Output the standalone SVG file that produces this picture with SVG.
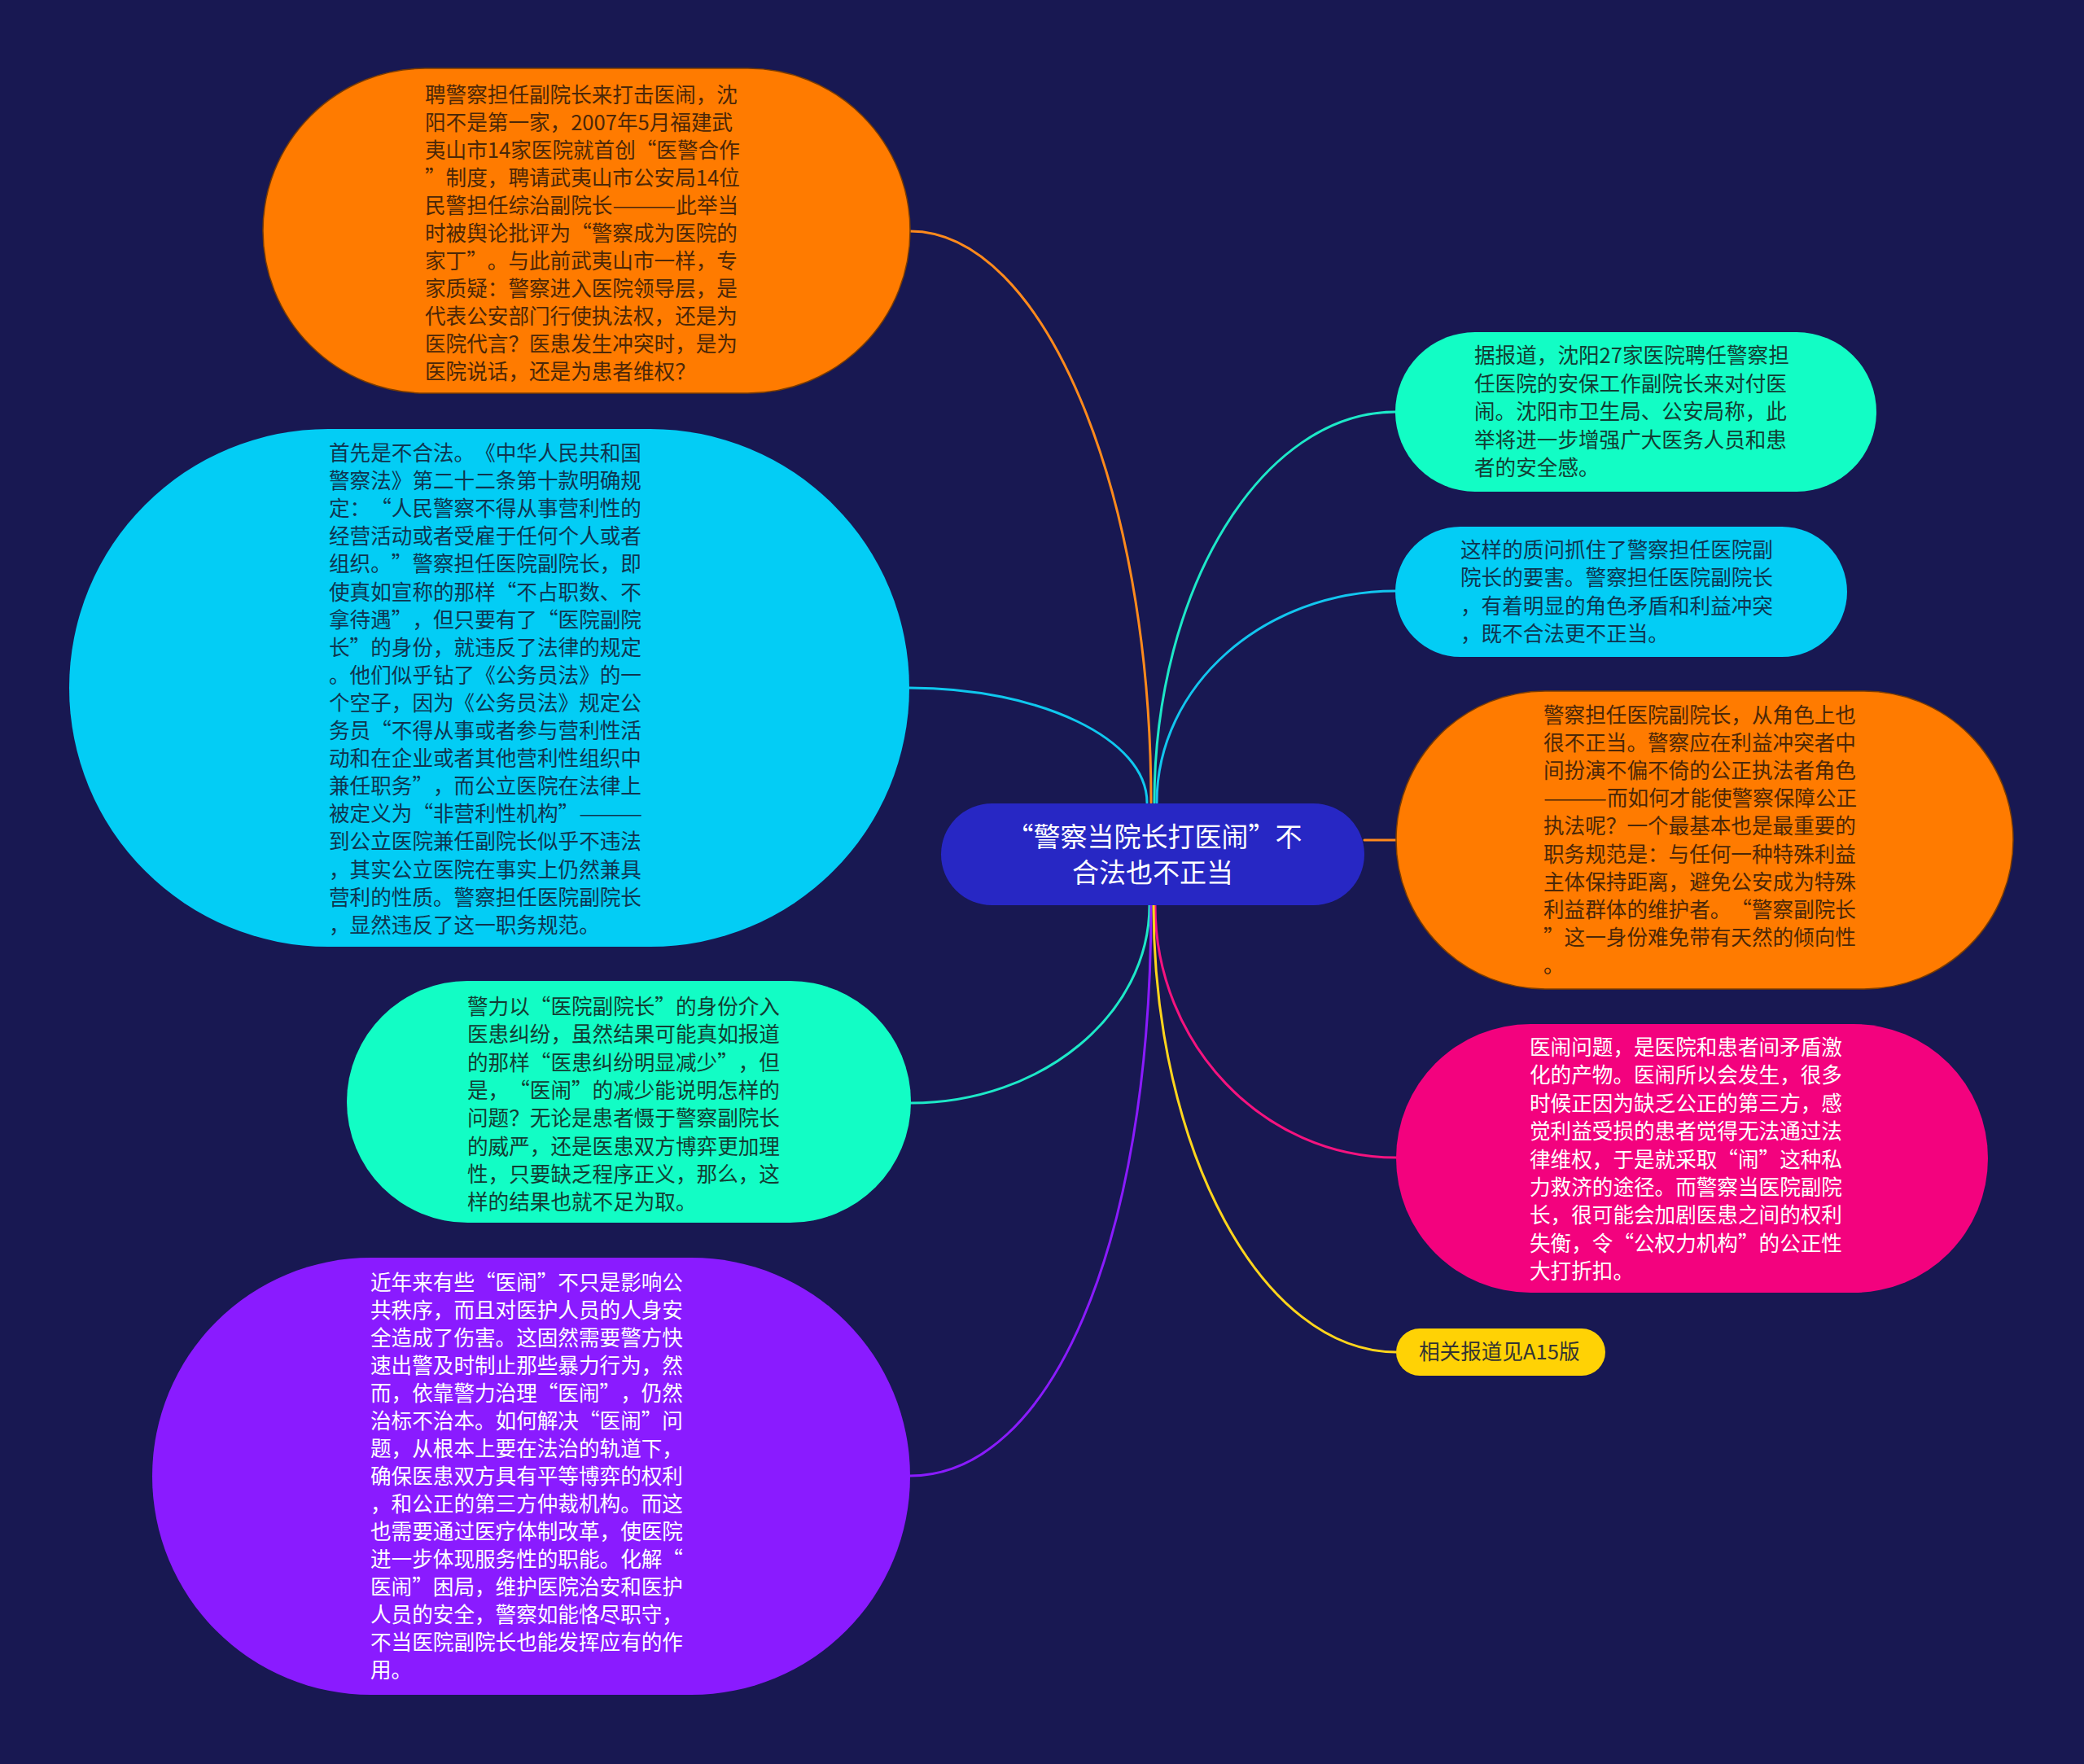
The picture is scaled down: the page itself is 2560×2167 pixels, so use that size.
<svg xmlns="http://www.w3.org/2000/svg" width="2560" height="2167" viewBox="0 0 2560 2167">
<style>
text{font-family:"Noto Sans CJK SC","Noto Sans",sans-serif;font-size:25.6px;text-spacing-trim:space-all}
.c{fill:none;stroke-width:3;stroke-linecap:round}
.tOr{fill:#4b2708}
.tCy{fill:#0f3550}
.tTe{fill:#123d33}
.tWh{fill:#ffffff}
.tYe{fill:#333333}
</style>
<rect x="0" y="0" width="2560" height="2167" fill="#181852"/>
<g id="connectors">
<path class="c" stroke="#ff8a1c" d="M1118,284 C1281,284 1414,600 1414,986"/>
<path class="c" stroke="#0fc8ee" d="M1117,845 C1278,845 1409,908 1409,986"/>
<path class="c" stroke="#1de8c8" d="M1418,986 C1418,722 1551,506 1714,506"/>
<path class="c" stroke="#12c6ef" d="M1421,986 C1421,842 1553,726 1714,726"/>
<path class="c" stroke="#ff8a1c" d="M1676,1032 L1715,1032"/>
<path class="c" stroke="#1de8c8" d="M1412,1112 C1412,1246 1280,1355 1119,1355"/>
<path class="c" stroke="#8a1bff" d="M1414,1112 C1414,1530 1290,1813 1118,1813"/>
<path class="c" stroke="#f5137f" d="M1419,1112 C1419,1283 1552,1422 1715,1422"/>
<path class="c" stroke="#ffd51c" d="M1417,1112 C1417,1414 1551,1661 1715,1661"/>
</g>
<g id="node-center">
<rect x="1156" y="987" width="520" height="125" rx="62.5" ry="62.5" fill="#2727c4"/>
<text class="tWh" style="font-size:33px" text-anchor="middle"><tspan x="1418" y="1040">“警察当院长打医闹”不</tspan><tspan x="1416" y="1084">合法也不正当</tspan></text>
</g>
<g id="node-left1">
<rect x="323" y="84" width="795" height="399" rx="199.5" ry="199.5" fill="#ff7b00" stroke="#7a3c00" stroke-width="1.5"/>
<text class="tOr"><tspan x="522" y="126">聘警察担任副院长来打击医闹，沈</tspan><tspan x="522" dy="34">阳不是第一家，2007年5月福建武</tspan><tspan x="522" dy="34">夷山市14家医院就首创“医警合作</tspan><tspan x="522" dy="34">”制度，聘请武夷山市公安局14位</tspan><tspan x="522" dy="34">民警担任综治副院长<tspan textLength="78" lengthAdjust="spacingAndGlyphs">———</tspan>此举当</tspan><tspan x="522" dy="34">时被舆论批评为“警察成为医院的</tspan><tspan x="522" dy="34">家丁”。与此前武夷山市一样，专</tspan><tspan x="522" dy="34">家质疑：警察进入医院领导层，是</tspan><tspan x="522" dy="34">代表公安部门行使执法权，还是为</tspan><tspan x="522" dy="34">医院代言？医患发生冲突时，是为</tspan><tspan x="522" dy="34">医院说话，还是为患者维权？</tspan></text>
</g>
<g id="node-left2">
<rect x="85" y="527" width="1032" height="636" rx="318" ry="318" fill="#03cdf5"/>
<text class="tCy"><tspan x="404" y="566">首先是不合法。《中华人民共和国</tspan><tspan x="404" dy="34.1">警察法》第二十二条第十款明确规</tspan><tspan x="404" dy="34.1">定：“人民警察不得从事营利性的</tspan><tspan x="404" dy="34.1">经营活动或者受雇于任何个人或者</tspan><tspan x="404" dy="34.1">组织。”警察担任医院副院长，即</tspan><tspan x="404" dy="34.1">使真如宣称的那样“不占职数、不</tspan><tspan x="404" dy="34.1">拿待遇”，但只要有了“医院副院</tspan><tspan x="404" dy="34.1">长”的身份，就违反了法律的规定</tspan><tspan x="404" dy="34.1">。他们似乎钻了《公务员法》的一</tspan><tspan x="404" dy="34.1">个空子，因为《公务员法》规定公</tspan><tspan x="404" dy="34.1">务员“不得从事或者参与营利性活</tspan><tspan x="404" dy="34.1">动和在企业或者其他营利性组织中</tspan><tspan x="404" dy="34.1">兼任职务”，而公立医院在法律上</tspan><tspan x="404" dy="34.1">被定义为“非营利性机构”<tspan textLength="78" lengthAdjust="spacingAndGlyphs">———</tspan></tspan><tspan x="404" dy="34.1">到公立医院兼任副院长似乎不违法</tspan><tspan x="404" dy="34.1">，其实公立医院在事实上仍然兼具</tspan><tspan x="404" dy="34.1">营利的性质。警察担任医院副院长</tspan><tspan x="404" dy="34.1">，显然违反了这一职务规范。</tspan></text>
</g>
<g id="node-left3">
<rect x="426" y="1205" width="693" height="297" rx="148.5" ry="148.5" fill="#12fdc5"/>
<text class="tTe"><tspan x="574" y="1246">警力以“医院副院长”的身份介入</tspan><tspan x="574" dy="34.3">医患纠纷，虽然结果可能真如报道</tspan><tspan x="574" dy="34.3">的那样“医患纠纷明显减少”，但</tspan><tspan x="574" dy="34.3">是，“医闹”的减少能说明怎样的</tspan><tspan x="574" dy="34.3">问题？无论是患者慑于警察副院长</tspan><tspan x="574" dy="34.3">的威严，还是医患双方博弈更加理</tspan><tspan x="574" dy="34.3">性，只要缺乏程序正义，那么，这</tspan><tspan x="574" dy="34.3">样的结果也就不足为取。</tspan></text>
</g>
<g id="node-left4">
<rect x="187" y="1545" width="931" height="537" rx="268.5" ry="268.5" fill="#8a1bff"/>
<text class="tWh"><tspan x="455" y="1585">近年来有些“医闹”不只是影响公</tspan><tspan x="455" dy="34">共秩序，而且对医护人员的人身安</tspan><tspan x="455" dy="34">全造成了伤害。这固然需要警方快</tspan><tspan x="455" dy="34">速出警及时制止那些暴力行为，然</tspan><tspan x="455" dy="34">而，依靠警力治理“医闹”，仍然</tspan><tspan x="455" dy="34">治标不治本。如何解决“医闹”问</tspan><tspan x="455" dy="34">题，从根本上要在法治的轨道下，</tspan><tspan x="455" dy="34">确保医患双方具有平等博弈的权利</tspan><tspan x="455" dy="34">，和公正的第三方仲裁机构。而这</tspan><tspan x="455" dy="34">也需要通过医疗体制改革，使医院</tspan><tspan x="455" dy="34">进一步体现服务性的职能。化解“</tspan><tspan x="455" dy="34">医闹”困局，维护医院治安和医护</tspan><tspan x="455" dy="34">人员的安全，警察如能恪尽职守，</tspan><tspan x="455" dy="34">不当医院副院长也能发挥应有的作</tspan><tspan x="455" dy="34">用。</tspan></text>
</g>
<g id="node-right1">
<rect x="1714" y="408" width="591" height="196" rx="98" ry="98" fill="#12fdc5"/>
<text class="tTe"><tspan x="1811" y="446">据报道，沈阳27家医院聘任警察担</tspan><tspan x="1811" dy="34.5">任医院的安保工作副院长来对付医</tspan><tspan x="1811" dy="34.5">闹。沈阳市卫生局、公安局称，此</tspan><tspan x="1811" dy="34.5">举将进一步增强广大医务人员和患</tspan><tspan x="1811" dy="34.5">者的安全感。</tspan></text>
</g>
<g id="node-right2">
<rect x="1714" y="647" width="555" height="160" rx="80" ry="80" fill="#03cdf5"/>
<text class="tCy"><tspan x="1794" y="685">这样的质问抓住了警察担任医院副</tspan><tspan x="1794" dy="34.3">院长的要害。警察担任医院副院长</tspan><tspan x="1794" dy="34.3">，有着明显的角色矛盾和利益冲突</tspan><tspan x="1794" dy="34.3">，既不合法更不正当。</tspan></text>
</g>
<g id="node-right3">
<rect x="1715" y="849" width="758" height="366" rx="183" ry="183" fill="#ff7b00" stroke="#7a3c00" stroke-width="1.5"/>
<text class="tOr"><tspan x="1896" y="888">警察担任医院副院长，从角色上也</tspan><tspan x="1896" dy="34.1">很不正当。警察应在利益冲突者中</tspan><tspan x="1896" dy="34.1">间扮演不偏不倚的公正执法者角色</tspan><tspan x="1896" dy="34.1"><tspan textLength="78" lengthAdjust="spacingAndGlyphs">———</tspan>而如何才能使警察保障公正</tspan><tspan x="1896" dy="34.1">执法呢？一个最基本也是最重要的</tspan><tspan x="1896" dy="34.1">职务规范是：与任何一种特殊利益</tspan><tspan x="1896" dy="34.1">主体保持距离，避免公安成为特殊</tspan><tspan x="1896" dy="34.1">利益群体的维护者。“警察副院长</tspan><tspan x="1896" dy="34.1">”这一身份难免带有天然的倾向性</tspan><tspan x="1896" dy="34.1">。</tspan></text>
</g>
<g id="node-right4">
<rect x="1715" y="1258" width="727" height="330" rx="165" ry="165" fill="#f3027e"/>
<text class="tWh"><tspan x="1879" y="1296">医闹问题，是医院和患者间矛盾激</tspan><tspan x="1879" dy="34.4">化的产物。医闹所以会发生，很多</tspan><tspan x="1879" dy="34.4">时候正因为缺乏公正的第三方，感</tspan><tspan x="1879" dy="34.4">觉利益受损的患者觉得无法通过法</tspan><tspan x="1879" dy="34.4">律维权，于是就采取“闹”这种私</tspan><tspan x="1879" dy="34.4">力救济的途径。而警察当医院副院</tspan><tspan x="1879" dy="34.4">长，很可能会加剧医患之间的权利</tspan><tspan x="1879" dy="34.4">失衡，令“公权力机构”的公正性</tspan><tspan x="1879" dy="34.4">大打折扣。</tspan></text>
</g>
<g id="node-right5">
<rect x="1715" y="1632" width="257" height="58" rx="29" ry="29" fill="#ffd205"/>
<text class="tYe" x="1743" y="1670">相关报道见A15版</text>
</g>
</svg>
